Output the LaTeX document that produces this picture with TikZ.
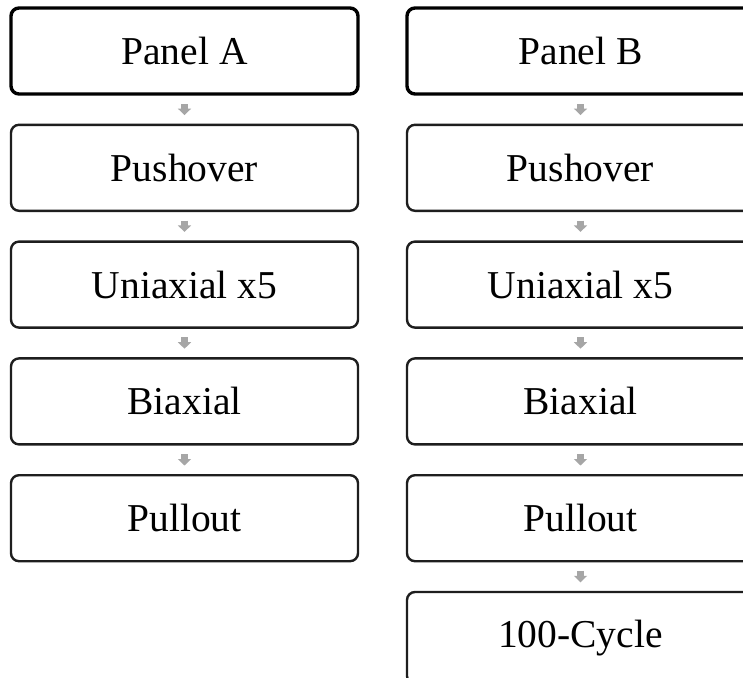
\documentclass[tikz,border=0pt]{standalone}
\usepackage{fontspec}
\setmainfont{Liberation Serif}
\usetikzlibrary{arrows.meta}
\definecolor{boxline}{HTML}{1E1E1E}
\definecolor{flowgray}{HTML}{A6A6A6}
\tikzset{
  stage/.style={draw=boxline, line width=2.4pt, rounded corners=8pt, fill=white,
    minimum width=347pt, minimum height=86pt, inner sep=0pt,
    font=\fontsize{39.5}{46}\selectfont},
  panelbox/.style={stage, draw=black, line width=3.4pt},
  flow/.style={draw=flowgray, line width=6.5pt,
    -{Triangle[width=13pt,length=6.5pt]}, shorten <=8.5pt, shorten >=8.5pt}
}
\begin{document}
\begin{tikzpicture}[x=1pt, y=-1pt]
  \clip (0,0) rectangle (743,677);
  \fill[white] (0,0) rectangle (743,677);

  % left column
  \node[panelbox] (a0) at (184.5, 51.0) {Panel A};
  \node[stage]    (a1) at (184.5, 167.8) {Pushover};
  \node[stage]    (a2) at (184.5, 284.6) {Uniaxial x5};
  \node[stage]    (a3) at (184.5, 401.4) {Biaxial};
  \node[stage]    (a4) at (184.5, 518.2) {Pullout};

  % right column
  \node[panelbox] (b0) at (580.5, 51.0) {Panel B};
  \node[stage]    (b1) at (580.5, 167.8) {Pushover};
  \node[stage]    (b2) at (580.5, 284.6) {Uniaxial x5};
  \node[stage]    (b3) at (580.5, 401.4) {Biaxial};
  \node[stage]    (b4) at (580.5, 518.2) {Pullout};
  \node[stage, minimum height=92pt] (b5) at (580.5, 638.0) {100-Cycle};

  % flow arrows
  \foreach \i/\j in {0/1,1/2,2/3,3/4}{
    \draw[flow] (a\i.south) -- (a\j.north);
  }
  \foreach \i/\j in {0/1,1/2,2/3,3/4,4/5}{
    \draw[flow] (b\i.south) -- (b\j.north);
  }
\end{tikzpicture}
\end{document}
